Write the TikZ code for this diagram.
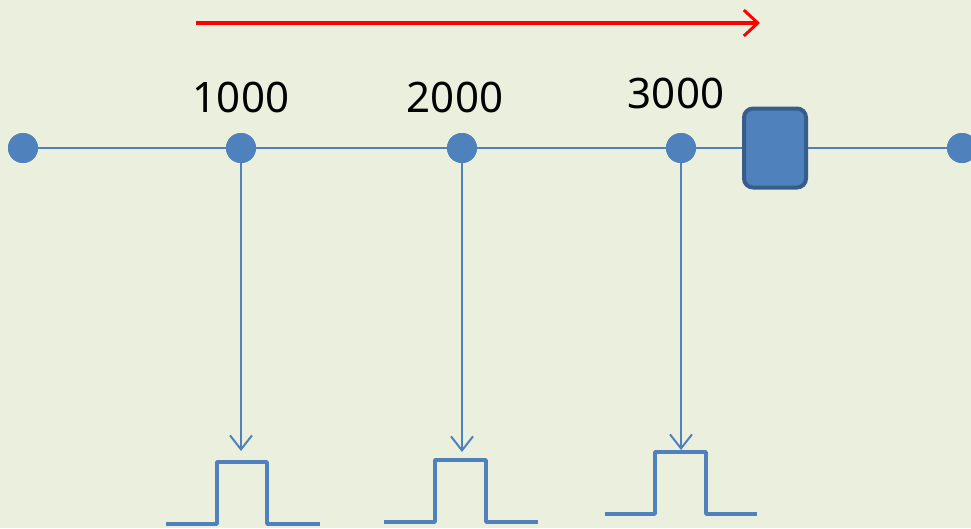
\documentclass[tikz,border=0pt]{standalone}
\usepackage{fontspec}
\setmainfont{Noto Sans}
\usetikzlibrary{arrows.meta}
\definecolor{bg}{RGB}{235,240,222}
\definecolor{blu}{RGB}{79,129,189}
\definecolor{dblu}{RGB}{56,93,138}
\tikzset{
  dot/.style={circle,fill=blu,minimum size=30pt,inner sep=0pt},
  wire/.style={draw=blu,line width=2.8pt},
  drop/.style={draw=blu,line width=2pt,-{Straight Barb[length=14pt,width=22pt,line width=2pt]}},
  pulse/.style={draw=blu,line width=3.5pt,line join=round},
  lbl/.style={font=\fontsize{42}{48}\selectfont,text=black,inner sep=0pt}
}
\begin{document}
\begin{tikzpicture}[x=1pt,y=-1pt]
\fill[bg] (0,0) rectangle (971,528);
\useasboundingbox (0,0) rectangle (971,528);
% red arrow
\coordinate (rs) at (196,23);
\coordinate (re) at (760,23);
\draw[red,line width=3.5pt,-{Straight Barb[length=14pt,width=26pt,line width=3pt]}] (rs) -- (re);
% dots
\node[dot] (d0) at (23,148) {};
\node[dot] (d1) at (241,148) {};
\node[dot] (d2) at (462,148) {};
\node[dot] (d3) at (681,148) {};
\node[dot] (d4) at (962,148) {};
\node[draw=dblu,fill=blu,line width=4pt,rounded corners=9pt,minimum width=62pt,minimum height=79pt,inner sep=0pt] (box) at (775,148) {};
\draw[wire] (d0) -- (d1);
\draw[wire] (d1) -- (d2);
\draw[wire] (d2) -- (d3);
\draw[wire] (d3) -- (box);
\draw[wire] (box) -- (d4);
\node[dot] at (23,148) {};
\node[dot] at (241,148) {};
\node[dot] at (462,148) {};
\node[dot] at (681,148) {};
\node[dot] at (962,148) {};
% labels
\node[lbl] (l1) at (241,97) {1000};
\node[lbl] (l2) at (455,97) {2000};
\node[lbl] (l3) at (676,93) {3000};
% drops
\coordinate (t1) at (241,451);
\coordinate (t2) at (462,452);
\coordinate (t3) at (681,450);
\draw[drop] (d1.south) -- (t1);
\draw[drop] (d2.south) -- (t2);
\draw[drop] (d3.south) -- (t3);
% pulses
\draw[pulse] (166,524) -- (217,524) -- (217,462) -- (267,462) -- (267,524) -- (320,524);
\draw[pulse] (384,522) -- (435,522) -- (435,460) -- (486,460) -- (486,522) -- (538,522);
\draw[pulse] (605,514) -- (655,514) -- (655,452) -- (706,452) -- (706,514) -- (757,514);
\end{tikzpicture}
\end{document}
